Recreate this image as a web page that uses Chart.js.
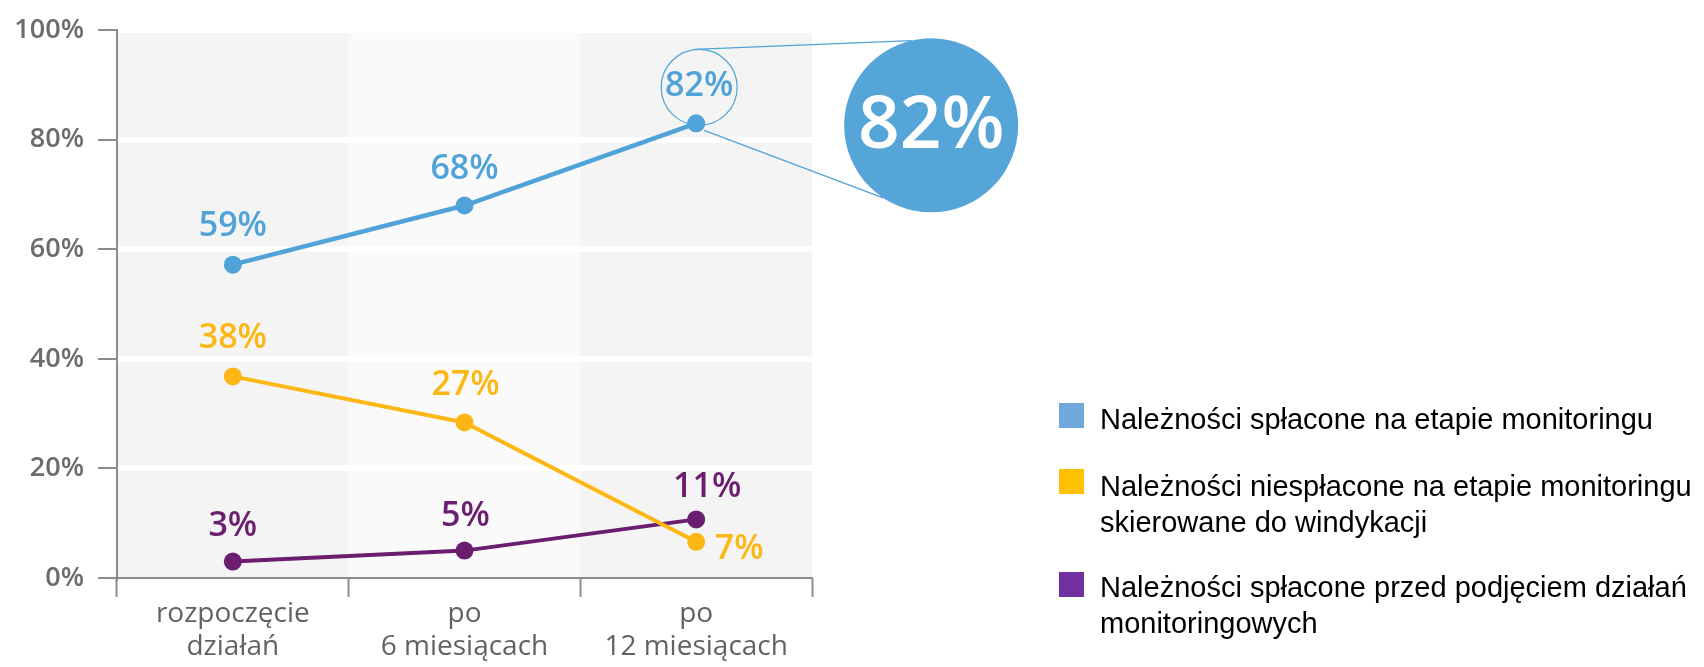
<!DOCTYPE html>
<html lang="pl">
<head>
<meta charset="utf-8">
<script src="https://cdn.jsdelivr.net/npm/chart.js@4.4.1/dist/chart.umd.min.js"></script>
<style>
  html, body { margin: 0; padding: 0; background: #ffffff; }
  #wrap { position: relative; width: 1704px; height: 667px; overflow: hidden; }
  #chart { position: absolute; left: 0; top: 0; }
  .lg-sq { position: absolute; width: 25px; height: 25px; }
  .lg-tx { position: absolute; left: 1100px; font-family: "Liberation Sans", Arial, sans-serif; font-size: 29px;
           line-height: 36px; color: #000; white-space: nowrap; }
</style>
</head>
<body>
<div id="wrap">
  <canvas id="chart" width="1704" height="667"></canvas>
  <div id="legend"></div>
</div>
<script>
// ---- data ----
const categories = [['rozpoczęcie', 'działań'], ['po', '6 miesiącach'], ['po', '12 miesiącach']];
const seriesNames = [
  'Należności spłacone na etapie monitoringu',
  'Należności niespłacone na etapie monitoringu\nskierowane do windykacji',
  'Należności spłacone przed podjęciem działań\nmonitoringowych'
];
const repaidMonitoring = [57.2, 68, 83];
const unpaidToCollection = [36.8, 28.4, 6.6];
const repaidBefore = [3, 5, 10.7];
const repaidMonitoringLabels = ['59%', '68%', '82%'];
const unpaidToCollectionLabels = ['38%', '27%', '7%'];
const repaidBeforeLabels = ['3%', '5%', '11%'];
const yTicks = [0, 20, 40, 60, 80, 100];
const highlightText = '82%';

// ---- styles ----
const lineColors = ['#4fa3d8', '#fdb714', '#6b1e6f'];
const legendColors = ['#6fa8dc', '#ffc000', '#7030a0'];
const bandColors = ['#f4f4f4', '#fafafa', '#f4f4f4'];
const axisGrey = '#8c8c8c';

// legend (HTML)
const legendLayout = [
  { sq: 403, tx: 401 },
  { sq: 469, tx: 468 },
  { sq: 572, tx: 569 }
];
const legendEl = document.getElementById('legend');
seriesNames.forEach((name, i) => {
  const sq = document.createElement('div');
  sq.className = 'lg-sq';
  sq.style.left = '1059px';
  sq.style.top = legendLayout[i].sq + 'px';
  sq.style.background = legendColors[i];
  legendEl.appendChild(sq);
  const tx = document.createElement('div');
  tx.className = 'lg-tx';
  tx.style.top = legendLayout[i].tx + 'px';
  tx.innerHTML = name.split('\n').join('<br>');
  legendEl.appendChild(tx);
});

// band background plugin
const bandPlugin = {
  id: 'bands',
  beforeDraw(chart) {
    const { ctx, chartArea } = chart;
    const xs = chart.scales.x;
    const n = categories.length;
    const w = (chartArea.right - chartArea.left) / n;
    ctx.save();
    for (let i = 0; i < n; i++) {
      const cx = xs.getPixelForValue(i);
      ctx.fillStyle = bandColors[i % bandColors.length];
      ctx.fillRect(cx - w / 2, chartArea.top, w, chartArea.bottom - chartArea.top);
    }
    ctx.restore();
  }
};

// value labels plugin
const labelOffsets = [
  [[0, -38], [0, -36], [3, -37]],
  [[0, -38], [1, -37], [43, 7]],
  [[0, -35], [1, -34], [11, -32]]
];
const labelSets = [repaidMonitoringLabels, unpaidToCollectionLabels, repaidBeforeLabels];
const labelPlugin = {
  id: 'valueLabels',
  afterDatasetsDraw(chart) {
    const { ctx } = chart;
    ctx.save();
    ctx.font = '600 34px "Open Sans", sans-serif';
    ctx.textAlign = 'center';
    ctx.textBaseline = 'middle';
    chart.data.datasets.forEach((ds, di) => {
      const meta = chart.getDatasetMeta(di);
      meta.data.forEach((pt, pi) => {
        const off = labelOffsets[di][pi];
        ctx.fillStyle = lineColors[di];
        ctx.fillText(labelSets[di][pi], pt.x + off[0], pt.y + off[1]);
      });
    });
    ctx.restore();
  }
};

// magnifier plugin
const magnifierPlugin = {
  id: 'magnifier',
  afterDraw(chart) {
    const { ctx } = chart;
    const pt = chart.getDatasetMeta(0).data[2];
    const px = pt.x, py = pt.y;
    const small = { x: px + 3, y: py - 36, r: 38 };
    const big = { x: px + 235, y: py + 2, r: 87 };
    ctx.save();
    ctx.strokeStyle = lineColors[0];
    ctx.lineWidth = 1.2;
    ctx.beginPath();
    ctx.arc(small.x, small.y, small.r, 0, Math.PI * 2);
    ctx.stroke();
    const a1 = -103 * Math.PI / 180, a2 = 123.5 * Math.PI / 180;
    ctx.beginPath();
    ctx.moveTo(small.x - 5, small.y - small.r);
    ctx.lineTo(big.x + big.r * Math.cos(a1), big.y + big.r * Math.sin(a1));
    ctx.moveTo(px + 8, py + 7);
    ctx.lineTo(big.x + big.r * Math.cos(a2), big.y + big.r * Math.sin(a2));
    ctx.stroke();
    ctx.fillStyle = '#55a5d8';
    ctx.beginPath();
    ctx.arc(big.x, big.y, big.r, 0, Math.PI * 2);
    ctx.fill();
    ctx.fillStyle = '#ffffff';
    ctx.font = '600 73px "Open Sans", sans-serif';
    ctx.textAlign = 'center';
    ctx.textBaseline = 'middle';
    ctx.fillText(highlightText, big.x, big.y + 2);
    ctx.restore();
  }
};

const seriesData = [repaidMonitoring, unpaidToCollection, repaidBefore];
new Chart(document.getElementById('chart'), {
  type: 'line',
  data: {
    labels: categories,
    datasets: seriesData.map((d, i) => ({
      label: seriesNames[i],
      data: d,
      borderColor: lineColors[i],
      backgroundColor: lineColors[i],
      pointBackgroundColor: lineColors[i],
      borderWidth: i === 0 ? 4.5 : 4,
      pointRadius: 9,
      pointBorderWidth: 0,
      tension: 0,
      fill: false
    }))
  },
  options: {
    responsive: false,
    animation: false,
    layout: { padding: { top: 27, right: 892, left: 0, bottom: 0 } },
    plugins: { legend: { display: false }, tooltip: { enabled: false } },
    scales: {
      x: {
        offset: true,
        grid: { offset: true, drawOnChartArea: false, tickLength: 19, tickColor: axisGrey, tickWidth: 2 },
        border: { display: true, color: axisGrey, width: 2 },
        ticks: { color: '#626262', font: { family: '"Open Sans", sans-serif', size: 28 }, padding: 0, maxRotation: 0, autoSkip: false },
        afterFit(scale) { scale.height = 89; }
      },
      y: {
        min: 0, max: 100,
        afterBuildTicks(scale) { scale.ticks = yTicks.map(v => ({ value: v })); },
        grid: {
          color: (c) => (c.tick && c.tick.value === 0) ? 'rgba(0,0,0,0)' : '#ffffff',
          lineWidth: 6, tickLength: 19, tickColor: axisGrey, tickWidth: 2
        },
        border: { display: true, color: axisGrey, width: 2 },
        ticks: { color: '#6c6c6c', font: { family: '"Open Sans", sans-serif', size: 27, weight: '600' }, padding: 14,
                 callback: (v) => v + '%' },
        afterFit(scale) { scale.width = 117; }
      }
    }
  },
  plugins: [bandPlugin, labelPlugin, magnifierPlugin]
});
</script>
</body>
</html>
